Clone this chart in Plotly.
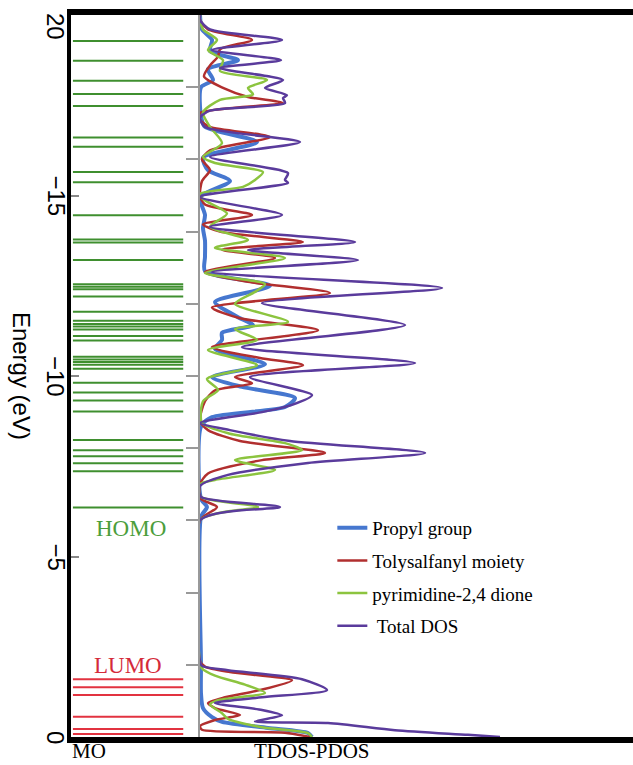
import plotly.graph_objects as go

# ---------------- data ----------------
homo_levels = [-6.36, -7.36, -7.58, -7.78, -7.94, -8.23, -9.02, -9.32, -9.54, -9.81,
               -10.20, -10.31, -10.39, -10.46, -10.53, -10.98, -11.11, -11.29, -11.37,
               -11.44, -11.53, -11.78, -12.20, -12.40, -12.47, -12.54, -13.21, -13.70,
               -13.78, -14.45, -15.37, -15.65, -16.35, -16.61, -17.48, -17.81, -18.18,
               -18.73, -19.28]
lumo_levels = [-1.60, -1.38, -1.16, -0.56, -0.22, -0.08]

propyl = [(0, 112), (-0.11, 108), (-0.25, 68), (-0.42, 22), (-0.55, 12), (-0.8, 3), (-1.2, 1),
          (-2.0, 1), (-6.1, 1), (-6.37, 7), (-6.6, 1), (-8.6, 1), (-8.86, 12), (-9.14, 85),
          (-9.39, 95), (-9.7, 42), (-9.97, 12), (-10.33, 65), (-10.75, 15), (-11.0, 22),
          (-11.2, 22), (-11.41, 53), (-11.63, 38), (-12.05, 15), (-12.5, 70), (-12.9, 5),
          (-13.3, 5), (-13.75, 5), (-14.1, 3), (-14.46, 5), (-14.96, 0), (-15.4, 30),
          (-15.7, 8), (-16.05, 3), (-16.48, 57), (-16.9, 5), (-17.2, 1), (-18.0, 1),
          (-18.2, 13), (-18.5, 8), (-18.75, 38), (-19.0, 10), (-19.31, 12), (-19.6, 2), (-20, 0)]

tolyl = [(0, 110), (-0.12, 85), (-0.2, 2), (-0.3, 0), (-0.47, 15), (-0.61, 40), (-0.8, 15),
         (-0.94, 8), (-1.1, 25), (-1.3, 60), (-1.57, 92), (-1.8, 30), (-1.95, 5), (-2.1, 0),
         (-6.0, 0), (-6.37, 17), (-6.6, 1), (-7.0, 0), (-7.3, 8), (-7.67, 62), (-7.87, 125),
         (-8.2, 40), (-8.5, 8), (-8.75, 0), (-9.3, 5), (-9.6, 15), (-9.8, 52), (-9.97, 35),
         (-10.3, 103), (-10.5, 60), (-10.8, 12), (-11.27, 118), (-11.6, 40), (-11.9, 12),
         (-12.3, 130), (-12.6, 50), (-12.88, 5), (-13.27, 75), (-13.5, 22), (-13.71, 103),
         (-14.0, 20), (-14.2, 3), (-14.46, 52), (-14.75, 5), (-15.0, 0), (-15.4, 2),
         (-15.71, 10), (-16.0, 2), (-16.25, 10), (-16.62, 70), (-16.9, 10), (-17.1, 0),
         (-17.29, 0), (-17.56, 83), (-17.73, 48), (-17.98, 23), (-18.3, 4), (-18.6, 10),
         (-18.85, 18), (-19.05, 20), (-19.31, 52), (-19.6, 8), (-19.86, 0), (-20, 0)]

pyrim = [(0, 112), (-0.11, 108), (-0.27, 62), (-0.5, 28), (-0.66, 22), (-0.9, 10), (-1.02, 18),
         (-1.22, 65), (-1.45, 45), (-1.7, 15), (-1.9, 2), (-2.1, 0), (-6.0, 0), (-6.37, 58),
         (-6.65, 1), (-7.0, 0), (-7.12, 15), (-7.4, 75), (-7.67, 35), (-7.95, 102), (-8.14, 85),
         (-8.4, 30), (-8.7, 2), (-9.3, 3), (-9.61, 18), (-9.92, 7), (-10.3, 57), (-10.72, 8),
         (-11.0, 57), (-11.3, 35), (-11.5, 88), (-12.0, 35), (-12.33, 55), (-12.55, 65),
         (-12.85, 5), (-13.27, 85), (-13.55, 15), (-13.77, 48), (-14.13, 10), (-14.5, 27),
         (-14.9, 3), (-15.05, 0), (-15.24, 43), (-15.43, 55), (-15.65, 63), (-15.9, 15),
         (-16.07, 3), (-16.45, 22), (-16.9, 10), (-17.3, 3), (-17.65, 20), (-17.8, 53),
         (-17.98, 48), (-18.2, 67), (-18.45, 20), (-18.75, 23), (-19.03, 8), (-19.31, 17),
         (-19.6, 3), (-19.86, 0), (-20, 0)]

total = [(0, 300), (-0.06, 268), (-0.19, 195), (-0.39, 128), (-0.43, 55), (-0.6, 82),
         (-0.75, 62), (-0.94, 15), (-1.1, 62), (-1.3, 127), (-1.6, 102), (-1.85, 28),
         (-1.97, 2), (-2.1, 0), (-6.0, 0), (-6.37, 80), (-6.65, 1), (-6.95, 0), (-7.26, 28),
         (-7.59, 108), (-7.87, 225), (-8.2, 90), (-8.5, 30), (-8.7, 0), (-9.0, 62), (-9.2, 92),
         (-9.47, 112), (-9.97, 50), (-10.36, 215), (-10.8, 42), (-11.41, 205), (-12.02, 62),
         (-12.44, 242), (-12.88, 12), (-13.21, 158), (-13.49, 48), (-13.71, 155), (-14.13, 10),
         (-14.46, 82), (-14.96, 0), (-15.35, 88), (-15.43, 85), (-15.62, 88), (-16.07, 10),
         (-16.48, 100), (-16.9, 5), (-17.15, 0), (-17.35, 10), (-17.56, 85), (-17.7, 83),
         (-17.78, 87), (-17.98, 65), (-18.2, 83), (-18.53, 20), (-18.75, 81), (-19.03, 12),
         (-19.31, 82), (-19.6, 10), (-19.86, 0), (-20, 0)]

y_tickvals = [0, -5, -10, -15, -20]
y_ticktext = ["0", "\u22125", "\u221210", "\u221215", "20"]

series = [
    ("Propyl group", propyl, "#4677cf", 4),
    ("Tolysalfanyl moiety", tolyl, "#b12f2f", 2.5),
    ("pyrimidine-2,4 dione", pyrim, "#8cc43f", 2.5),
    (" Total DOS", total, "#5a3b9c", 2.5),
]

# ---------------- figure ----------------
fig = go.Figure()

def level_trace(levels, color):
    xs, ys = [], []
    for e in levels:
        xs += [0.015, 0.87, None]
        ys += [e, e, None]
    return go.Scatter(x=xs, y=ys, mode="lines", line=dict(color=color, width=2),
                      showlegend=False, hoverinfo="skip", xaxis="x", yaxis="y")

fig.add_trace(level_trace(homo_levels, "#3f8f2f"))
fig.add_trace(level_trace(lumo_levels, "#e23340"))

for i, (name, pts, color, w) in enumerate(series):
    es = [p[0] for p in pts]
    ds = [p[1] for p in pts]
    fig.add_trace(go.Scatter(x=ds, y=es, mode="lines", name=name,
                             line=dict(color=color, width=w, shape="spline", smoothing=0.7),
                             xaxis="x2", yaxis="y2", legendgroup=str(i)))

sans = "Liberation Sans, Arial, sans-serif"
serif = "Liberation Serif, Times New Roman, serif"
split = (200 - 71) / 562

fig.update_layout(
    width=633, height=765,
    margin=dict(l=71, r=0, t=15, b=28),
    paper_bgcolor="white", plot_bgcolor="white",
    showlegend=True,
    legend=dict(x=0.465, y=0.316, xanchor="left", yanchor="top",
                font=dict(family=serif, size=19, color="black"),
                bgcolor="rgba(0,0,0,0)", tracegroupgap=5, itemwidth=30),
    xaxis=dict(domain=[0, split], range=[0, 1], showgrid=False, zeroline=False,
               showticklabels=False, ticks="", showline=True, linecolor="black",
               linewidth=6, mirror=True),
    xaxis2=dict(domain=[split, 1], range=[0, 433], showgrid=False, zeroline=False,
                showticklabels=False, ticks="", showline=True, linecolor="black",
                linewidth=6, mirror=True, anchor="y"),
    yaxis=dict(range=[0, -20], tickvals=y_tickvals, showticklabels=False,
               ticks="inside", ticklen=8, tickwidth=1.5, tickcolor="#888",
               showgrid=False, zeroline=False, showline=True, linecolor="black",
               linewidth=4),
    yaxis2=dict(range=[0, -20], overlaying="y", anchor="x2", side="left",
                tickvals=[-2, -4, -6, -8, -10, -12, -14, -16, -18],
                ticks="outside", ticklen=12, tickwidth=1.5, tickcolor="#999",
                showticklabels=False, showgrid=False, zeroline=False,
                showline=True, linecolor="#999", linewidth=1.5),
)

# rotated tick labels of the energy axis
for v, t in zip(y_tickvals, y_ticktext):
    fig.add_annotation(text=t, xref="paper", yref="y", x=(56 - 71) / 562, y=v,
                       yshift=-11 if v == -20 else 0, textangle=90, showarrow=False,
                       xanchor="center", yanchor="middle",
                       font=dict(family=sans, size=24, color="black"))

ann = [
    dict(text="Energy (eV)", x=-0.087, y=0.5, textangle=90, font=dict(family=sans, size=24, color="black")),
    dict(text="HOMO", x=(131 - 71) / 562, y=(737 - 528) / 722, font=dict(family=serif, size=23, color="#4c9e3c")),
    dict(text="LUMO", x=(128 - 71) / 562, y=(737 - 665) / 722, font=dict(family=serif, size=23, color="#d42a3a")),
    dict(text="MO", x=-0.002, y=(737 - 751) / 722, xanchor="left", font=dict(family=serif, size=21, color="black")),
    dict(text="TDOS-PDOS", x=(312 - 71) / 562, y=(737 - 751) / 722, font=dict(family=serif, size=21, color="black")),
]
for a in ann:
    a.setdefault("xanchor", "center")
    fig.add_annotation(xref="paper", yref="paper", showarrow=False, yanchor="middle", **a)

fig.write_html("out.html")
